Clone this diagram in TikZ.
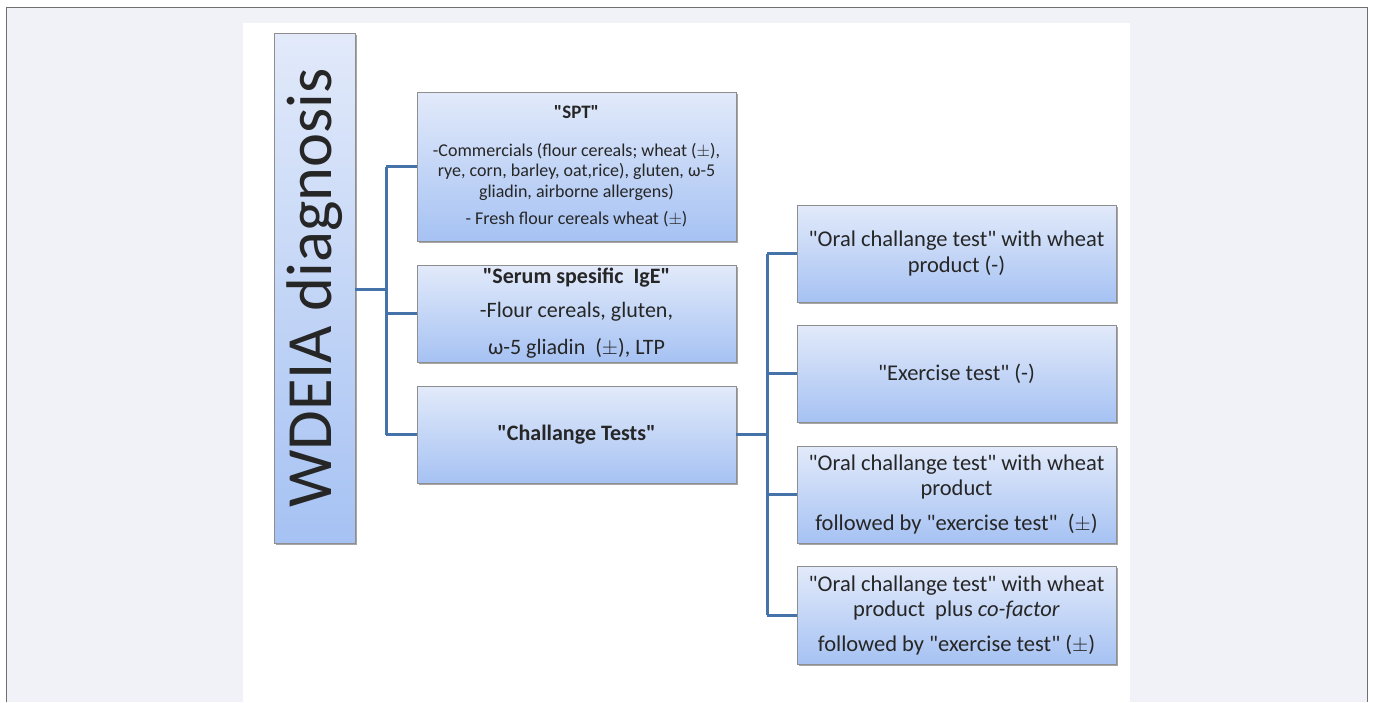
\documentclass[tikz,border=0pt]{standalone}
\usepackage{fontspec}
\setmainfont{Carlito}
\usetikzlibrary{shadows}
\definecolor{bgc}{HTML}{F0F2F7}
\definecolor{frame}{HTML}{707070}
\definecolor{boxtop}{HTML}{E2EAFA}
\definecolor{boxbot}{HTML}{A6C2F3}
\definecolor{boxline}{HTML}{8E8E8E}
\definecolor{link}{HTML}{4672AA}
\definecolor{txt}{HTML}{262626}
\newcommand{\qq}[1]{\textquotedbl#1\textquotedbl}
\tikzset{
  card/.style={draw=boxline, line width=0.8pt, top color=boxtop, bottom color=boxbot,
    drop shadow={shadow xshift=1.5pt, shadow yshift=-2pt, opacity=0.35, fill=black},
    inner sep=0pt, align=center, text=txt},
  conn/.style={draw=link, line width=3pt},
  small/.style={font=\fontsize{18}{20.5}\selectfont},
  mid/.style={font=\fontsize{22}{34}\selectfont},
  big/.style={font=\fontsize{22.5}{25.5}\selectfont},
}
\begin{document}
\begin{tikzpicture}[x=1pt,y=-1pt]
\useasboundingbox (0,0) rectangle (1373,702);
\fill[bgc] (6,7) rectangle (1367,702);
\draw[frame, line width=1pt] (6,702) -- (6,7) -- (1367,7) -- (1367,702);
\fill[white] (243,23) rectangle (1130,702);

% root
\node[card, minimum width=81pt, minimum height=510pt] (wd) at (314.5,288) {};
\node[rotate=90, text=txt, font=\fontsize{64.5}{64}\selectfont] (wdt) at (wd.center) {WDEIA diagnosis};

% left column
\node[card, small, minimum width=319pt, minimum height=149pt] (spt) at (576.5,166.5)
 {\textbf{\fontsize{19}{20}\selectfont \qq{SPT}}\\[17pt]
 -Commercials (flour cereals; wheat ($\pm$),\\
 rye, corn, barley, oat,rice), gluten, ω-5\\
 gliadin, airborne allergens)\\[6.5pt]
 - Fresh flour cereals wheat ($\pm$)};
\node[card, mid, minimum width=319pt, minimum height=97pt] (ige) at (576.5,313.5)
 {\textbf{\qq{Serum spesific\ \ IgE}}\\-Flour cereals, gluten,\\[3pt]ω-5 gliadin\ \ ($\pm$), LTP};
\node[card, mid, minimum width=319pt, minimum height=97pt] (ch) at (576.5,434.5)
 {\textbf{\qq{Challange Tests}}};

% right column
\node[card, big, minimum width=319pt, minimum height=97pt] (r1) at (956.5,253.5)
 {\qq{Oral challange test} with wheat\\product (-)};
\node[card, big, minimum width=319pt, minimum height=97pt] (r2) at (956.5,373.5)
 {\qq{Exercise test} (-)};
\node[card, big, minimum width=319pt, minimum height=97pt] (r3) at (956.5,494.5)
 {\qq{Oral challange test} with wheat\\product\\[9.5pt]followed by \qq{exercise test}\ \ ($\pm$)};
\node[card, big, minimum width=319pt, minimum height=98pt] (r4) at (956.5,615)
 {\qq{Oral challange test} with wheat\\product\ \ plus \textit{co-factor}\\[9pt]followed by \qq{exercise test} ($\pm$)};

% connectors
\coordinate (j1) at (386,289);
\coordinate (j2) at (767,434.5);
\draw[conn] (wd.east |- j1) -- (j1);
\draw[conn] (j1 |- spt.west) -- (j1 |- ch.west);
\draw[conn] (j1 |- spt.west) -- (spt.west);
\draw[conn] (j1 |- ige.west) -- (ige.west);
\draw[conn] (j1 |- ch.west) -- (ch.west);
\draw[conn] (ch.east) -- (j2);
\draw[conn] (j2 |- r1.west) -- (j2 |- r4.west);
\draw[conn] (j2 |- r1.west) -- (r1.west);
\draw[conn] (j2 |- r2.west) -- (r2.west);
\draw[conn] (j2 |- r3.west) -- (r3.west);
\draw[conn] (j2 |- r4.west) -- (r4.west);
\end{tikzpicture}
\end{document}
